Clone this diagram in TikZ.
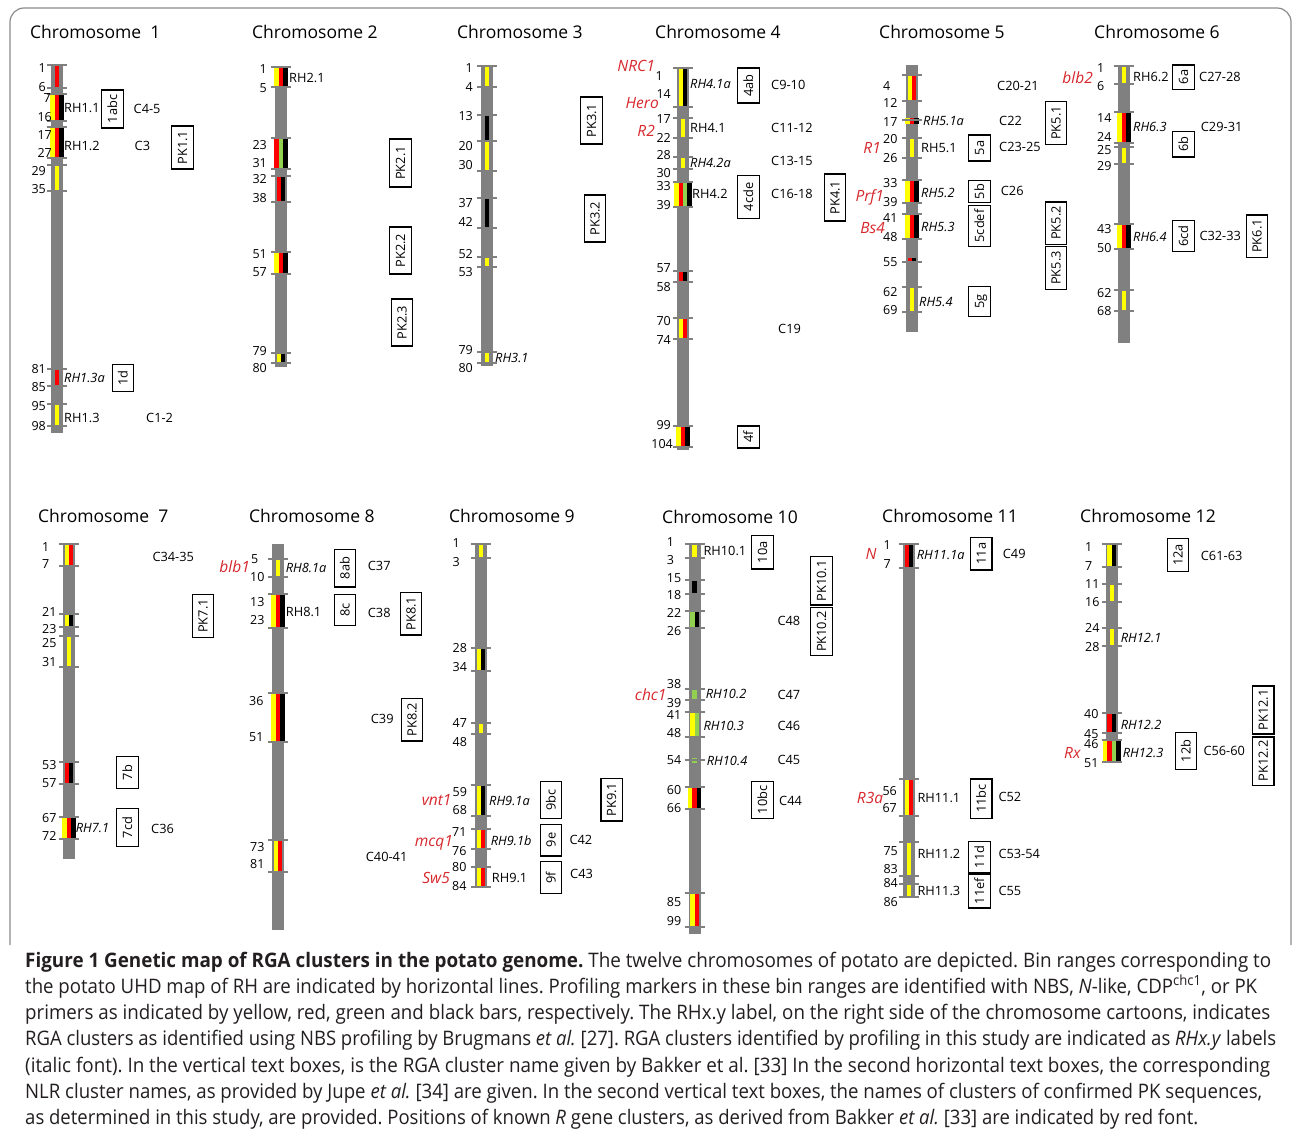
\documentclass[tikz,border=0pt]{standalone}
\usepackage{fontspec}
\setmainfont{Open Sans}
\usepackage{graphicx}
\frenchspacing
\definecolor{cY}{RGB}{255,255,0}
\definecolor{cR}{RGB}{255,0,0}
\definecolor{cG}{RGB}{146,208,80}
\definecolor{cK}{RGB}{0,0,0}
\definecolor{cBar}{RGB}{128,128,128}
\definecolor{cGene}{RGB}{215,40,45}
\definecolor{capc}{RGB}{35,31,32}
\definecolor{frc}{RGB}{140,140,140}
\newcommand\qbar[3]{\fill[cBar] ({#1-6},#2) rectangle ({#1+6},#3);}
\newcommand\qtk[2]{\draw[tickst] ({#1-10},#2) -- ({#1+10},#2);}
\newcommand\qblk[5]{\foreach \cc [count=\ii from 0] in {#5} {\fill[\cc] ({#1-#4*2.2+\ii*4.4},#2) rectangle ({#1-#4*2.2+(\ii+1)*4.4},#3);}\qtk{#1}{#2}\qtk{#1}{#3}}
\newcommand\qsblk[6]{\foreach \cc [count=\ii from 0] in {#6} {\fill[\cc] ({#1-#5*2.2+\ii*4.4},#2) rectangle ({#1-#5*2.2+(\ii+1)*4.4},#3);}\qtk{#1}{#4}}
\newcommand\qNR[3]{\node[num,anchor=east] at (#1,#2) {#3};}
\newcommand\qNL[3]{\node[num,anchor=west] at (#1,#2) {#3};}
\newcommand\qRH[3]{\node[rh] at (#1,#2) {#3};}
\newcommand\qRI[3]{\node[rh,font=\fontsize{12.8}{13}\selectfont\itshape] at (#1,#2) {#3};}
\newcommand\qCL[3]{\node[rh] at (#1,#2) {#3};}
\newcommand\qGN[3]{\node[gene] at (#1,#2) {#3};}
\newcommand\qVB[4]{\node[vbox,minimum width=#3pt] at (#1,#2) {#4};}
\begin{document}
\begin{tikzpicture}[x=1pt,y=-1pt,
  tickst/.style={draw=cBar,line width=2pt},
  num/.style={font=\fontsize{12.5}{12.5}\selectfont,inner sep=0pt,text height=8.9pt,text depth=0pt},
  rh/.style={font=\fontsize{12.8}{13}\selectfont,inner sep=0pt,anchor=west,text height=9.1pt,text depth=0pt},
  gene/.style={font=\fontsize{15.5}{16}\selectfont\itshape,text=cGene,inner sep=0pt,anchor=east,text height=11pt,text depth=0pt},
  vbox/.style={draw,line width=1.3pt,rotate=90,minimum height=21.5pt,inner sep=1pt,font=\fontsize{12.8}{13}\selectfont,text height=9pt,text depth=0pt},
  title/.style={font=\fontsize{17.5}{18}\selectfont,anchor=west,inner sep=0pt,text height=12.5pt,text depth=0pt},
  capst/.style={font=\fontsize{20}{24}\selectfont,text=capc,anchor=base west,inner sep=0pt}]
\useasboundingbox (0,0) rectangle (1293,1135);
\fill[white] (0,0) rectangle (1293,1135);
\draw[frc,line width=1.2pt,rounded corners=14pt] (10,945) -- (10,8) -- (1291,8) -- (1291,945);
% titles
\node[title] (t1) at (30,32) {Chromosome \ 1};
\node[title] (t2) at (252,32) {Chromosome 2};
\node[title] (t3) at (457,32) {Chromosome 3};
\node[title] (t4) at (655,32) {Chromosome 4};
\node[title] (t5) at (879,32) {Chromosome 5};
\node[title] (t6) at (1094,32) {Chromosome 6};
\node[title] (t7) at (38,516) {Chromosome \ 7};
\node[title] (t8) at (249,516) {Chromosome 8};
\node[title] (t9) at (449,516) {Chromosome 9};
\node[title] (t10) at (662,517) {Chromosome 10};
\node[title] (t11) at (882,516) {Chromosome 11};
\node[title] (t12) at (1080,516) {Chromosome 12};
% bars
\qbar{57}{64}{433}\qbar{281}{66}{367}\qbar{487}{65}{366}\qbar{683}{67}{450}\qbar{912}{65}{332}\qbar{1124}{65}{343}
\qbar{69}{543}{859}\qbar{278}{544}{930}\qbar{481}{543}{888}\qbar{694.5}{543}{934}\qbar{909}{543}{898}\qbar{1111.7}{543}{763}
% ---------- chromosome 1
\qblk{57}{65}{88.3}{1}{cR}
\qblk{57}{94}{120.7}{3}{cY,cR,cK}
\qblk{57}{127.3}{158.3}{3}{cY,cR,cK}
\qblk{57}{165}{191}{1}{cY}
\qblk{57}{369.3}{386}{1}{cR}
\qblk{57}{404.3}{425.7}{1}{cY}
\qNR{46}{68.3}{1}\qNR{46}{87.3}{6}\qNR{51}{98.3}{7}\qNR{52}{117.3}{16}\qNR{52}{135}{17}\qNR{52}{153.3}{27}
\qNR{46}{170.7}{29}\qNR{46}{189.3}{35}\qNR{46}{369.3}{81}\qNR{46}{387.3}{85}\qNR{46}{405.7}{95}\qNR{46}{426}{98}
\qRH{64}{108}{RH1.1}\qRH{64}{146}{RH1.2}\qRI{64}{378}{RH1.3a}\qRH{64}{418}{RH1.3}
\qVB{112.5}{109}{38}{1abc}\qVB{123}{378}{27}{1d}\qVB{182.5}{147.5}{43}{PK1.1}
\qCL{133.5}{109}{C4-5}\qCL{134.5}{146}{C3}\qCL{146}{418}{C1-2}
% ---------- chromosome 2
\qblk{281}{66.7}{87.3}{3}{cY,cR,cK}
\qblk{281}{137.7}{169}{3}{cR,cG,cK}
\qblk{281}{175.7}{201.7}{2}{cR,cK}
\qblk{281}{251.7}{274.3}{3}{cY,cR,cK}
\qblk{281}{352.7}{363.3}{2}{cY,cK}
\qNR{267}{69}{1}\qNR{267}{88.3}{5}\qNR{267}{145}{23}\qNR{267}{162.7}{31}\qNR{267}{179.3}{32}\qNR{267}{197.7}{38}
\qNR{267}{254.3}{51}\qNR{267}{271.7}{57}\qNR{267}{351}{79}\qNR{267}{368.3}{80}
\qRH{289}{77.7}{RH2.1}
\qVB{400.5}{163}{48}{PK2.1}\qVB{400.5}{250.5}{47}{PK2.2}\qVB{402}{322.5}{47}{PK2.3}
% ---------- chromosome 3
\qblk{487}{66}{86.7}{1}{cY}
\qblk{487}{115}{140.7}{1}{cK}
\qblk{487}{140.7}{170.7}{1}{cY}
\qblk{487}{198.3}{227.7}{1}{cK}
\qblk{487}{256.7}{267.3}{1}{cY}
\qblk{487}{351.7}{363.3}{1}{cY}
\qNR{473}{68.3}{1}\qNR{473}{86.7}{4}\qNR{473}{115.7}{13}\qNR{473}{145.7}{20}\qNR{473}{165}{30}\qNR{473}{202.7}{37}
\qNR{473}{221.7}{42}\qNR{473}{254}{52}\qNR{473}{271.7}{53}\qNR{473}{350}{79}\qNR{473}{368.3}{80}
\qRI{495}{358}{RH3.1}
\qVB{591.5}{120.5}{47}{PK3.1}\qVB{595}{218.5}{47}{PK3.2}
% ---------- chromosome 4
\qblk{683}{67.7}{106.7}{2}{cY,cK}
\qblk{683}{118.3}{137.7}{1}{cY}
\qblk{683}{157.3}{169}{1}{cY}
\qblk{683}{181.7}{206.7}{4}{cY,cR,cG,cK}
\qblk{683}{271}{281.7}{2}{cR,cK}
\qblk{683}{318.3}{339.3}{2}{cY,cR}
\qblk{683}{426}{446.7}{3}{cY,cR,cK}
\qNR{663}{75.7}{1}\qNR{671}{94.3}{14}\qNR{671}{119}{17}\qNR{671}{138.3}{22}\qNR{671}{155}{28}\qNR{671}{173.3}{30}
\qNR{671}{185.7}{33}\qNR{671}{205}{39}\qNR{671}{268.3}{57}\qNR{671}{286.7}{58}\qNR{671}{320.7}{70}\qNR{671}{340}{74}
\qNR{671}{425}{99}\qNR{673}{444}{104}
\qRI{690}{84}{RH4.1a}\qRH{690}{128}{RH4.1}\qRI{690}{163}{RH4.2a}\qRH{692}{194}{RH4.2}
\qGN{655}{65.7}{NRC1}\qGN{659}{102.7}{Hero}\qGN{655}{131}{R2}
\qVB{748.5}{85.5}{35}{4ab}\qVB{748.5}{197}{42.6}{4cde}\qVB{748.5}{437}{22}{4f}\qVB{835}{197.5}{47}{PK4.1}
\qCL{771}{85}{C9-10}\qCL{771}{127.7}{C11-12}\qCL{771}{160.7}{C13-15}\qCL{771}{194}{C16-18}\qCL{778}{329}{C19}
% ---------- chromosome 5
\qblk{912}{75}{100.7}{2}{cY,cR}
\qsblk{912}{117.7}{124}{120}{3}{cY,cR,cK}
\qblk{912}{137.7}{157.7}{1}{cY}
\qblk{912}{180}{203.3}{3}{cY,cR,cK}
\qblk{912}{214.3}{239}{3}{cY,cR,cK}
\qsblk{912}{257.7}{263.3}{261.7}{2}{cR,cK}
\qblk{912}{287.3}{312.3}{1}{cY}
\qNL{883}{85.7}{4}\qNL{883}{103.3}{12}\qNL{883}{121.7}{17}\qNL{883}{139.3}{20}\qNL{883}{157.7}{26}\qNL{883}{183.3}{33}
\qNL{883}{201.7}{39}\qNL{883}{218.3}{41}\qNL{883}{236.7}{48}\qNL{883}{261.7}{55}\qNL{883}{291.7}{62}\qNL{883}{310}{69}
\qRI{923}{121}{RH5.1a}\qRH{921}{148}{RH5.1}\qRI{921}{192.7}{RH5.2}\qRI{921}{226.7}{RH5.3}\qRI{919}{302}{RH5.4}
\qGN{881}{147.7}{R1}\qGN{884}{196}{Prf1}\qGN{885}{228.3}{Bs4}
\qVB{979.5}{148}{26}{5a}\qVB{979.5}{191.5}{21.6}{5b}\qVB{979.5}{226}{41}{5cdef}\qVB{979.5}{301.5}{30}{5g}
\qVB{1056}{123}{42.6}{PK5.1}\qVB{1056}{223}{42.3}{PK5.2}\qVB{1056}{268}{42.6}{PK5.3}
\qCL{997}{86}{C20-21}\qCL{999}{120.7}{C22}\qCL{999}{147.3}{C23-25}\qCL{1000.7}{191}{C26}
% ---------- chromosome 6
\qblk{1124}{66}{84}{1}{cY}
\qblk{1124}{112.3}{142.7}{3}{cY,cR,cK}
\qblk{1124}{146.7}{164.3}{1}{cY}
\qblk{1124}{224}{249.3}{3}{cY,cR,cK}
\qblk{1124}{290}{311}{1}{cY}
\qNL{1097}{68.3}{1}\qNL{1097}{86}{6}\qNL{1097}{118.3}{14}\qNL{1097}{136.7}{24}\qNL{1097}{150}{25}\qNL{1097}{166}{29}
\qNL{1097}{229}{43}\qNL{1097}{248.3}{50}\qNL{1097}{292.7}{62}\qNL{1097}{311}{68}
\qRH{1133}{76.7}{RH6.2}\qRI{1133}{127.3}{RH6.3}\qRI{1133}{237.3}{RH6.4}
\qGN{1093}{77.7}{blb2}
\qVB{1183.5}{77}{24.3}{6a}\qVB{1183.5}{144}{25.7}{6b}\qVB{1183.5}{236}{31}{6cd}\qVB{1257}{236}{42.3}{PK6.1}
\qCL{1199}{76.7}{C27-28}\qCL{1200.7}{127.3}{C29-31}\qCL{1199.3}{236}{C32-33}
% ---------- chromosome 7
\qblk{69}{544}{566}{2}{cY,cR}
\qblk{69}{614}{626.7}{2}{cY,cK}
\qblk{69}{636}{666.7}{1}{cY}
\qblk{69}{761.7}{784}{2}{cR,cK}
\qblk{69}{816.7}{839}{3}{cY,cR,cK}
\qNL{42}{546.7}{1}\qNL{42}{564.3}{7}\qNL{42}{611.7}{21}\qNL{42}{629.3}{23}\qNL{42}{643.3}{25}\qNL{42}{661.7}{31}
\qNL{42}{765}{53}\qNL{42}{783.3}{57}\qNL{42}{818.3}{67}\qNL{42}{836}{72}
\qRI{75.7}{827.7}{RH7.1}
\qVB{127.5}{772.5}{31.6}{7b}\qVB{127.5}{827.5}{38.4}{7cd}\qVB{203}{616}{42.7}{PK7.1}
\qCL{152.3}{556.7}{C34-35}\qCL{151}{829}{C36}
% ---------- chromosome 8
\qblk{278}{559.3}{576.7}{1}{cY}
\qblk{278}{594}{627.7}{3}{cY,cR,cK}
\qblk{278}{693.3}{741.7}{3}{cY,cR,cK}
\qblk{278}{840}{871.7}{2}{cY,cR}
\qNL{251}{559.3}{5}\qNL{250}{576.7}{10}\qNL{250}{601.7}{13}\qNL{250}{620}{23}\qNL{249}{700.7}{36}\qNL{249}{736.7}{51}
\qNL{250}{846.7}{73}\qNL{250}{864.3}{81}
\qRI{285.7}{567.7}{RH8.1a}\qRH{285.7}{611.7}{RH8.1}
\qGN{250}{566.7}{blb1}
\qVB{345}{568}{37.7}{8ab}\qVB{345}{610}{30.7}{8c}\qVB{411}{613.5}{42.7}{PK8.1}\qVB{412}{719.7}{42.7}{PK8.2}
\qCL{367.7}{565.7}{C37}\qCL{367.7}{612.7}{C38}\qCL{370.7}{719}{C39}\qCL{365.7}{856.7}{C40-41}
% ---------- chromosome 9
\qblk{481}{544}{557.7}{1}{cY}
\qblk{481}{647.7}{670.7}{2}{cY,cK}
\qblk{481}{723.3}{734.3}{1}{cY}
\qblk{481}{785}{816}{2}{cY,cK}
\qblk{481}{829}{849.3}{2}{cY,cR}
\qblk{481}{866.7}{886.7}{2}{cY,cR}
\qNL{452.5}{543.3}{1}\qNL{452.5}{562.3}{3}\qNL{452.5}{648.3}{28}\qNL{452.5}{667.3}{34}\qNL{452.5}{723.3}{47}\qNL{452.5}{741.7}{48}
\qNL{452.5}{791.7}{59}\qNL{452.5}{810}{68}\qNL{452}{831.7}{71}\qNL{452}{850.7}{76}\qNL{452}{867.3}{80}\qNL{452}{886}{84}
\qRI{489}{800.7}{RH9.1a}\qRI{490.7}{840.7}{RH9.1b}\qRH{491.7}{878.3}{RH9.1}
\qGN{451.7}{800}{vnt1}\qGN{453}{840.7}{mcq1}\qGN{450}{878.3}{Sw5}
\qVB{551}{800}{36.6}{9bc}\qVB{551}{840}{31.7}{9e}\qVB{551}{877.5}{31.6}{9f}\qVB{611.7}{799.7}{42.7}{PK9.1}
\qCL{569.3}{840}{C42}\qCL{570}{874.3}{C43}
% ---------- chromosome 10
\qblk{694.5}{544}{557.7}{1}{cY}
\qblk{694.5}{580}{594}{1}{cK}
\qblk{694.5}{611}{628.3}{2}{cG,cK}
\qblk{694.5}{689.3}{700}{1}{cG}
\qblk{694.5}{712.3}{736.7}{2}{cY,cG}
\qsblk{694.5}{757.7}{763.3}{760}{1}{cG}
\qblk{694.5}{786.7}{809.3}{3}{cY,cR,cK}
\qblk{694.5}{893.3}{926.7}{2}{cY,cR}
\qNL{666.7}{542.3}{1}\qNL{666.7}{560}{3}\qNL{666.7}{577.7}{15}\qNL{666.7}{595}{18}\qNL{666.7}{613.3}{22}\qNL{666.7}{630.7}{26}
\qNL{666.7}{684.3}{38}\qNL{666.7}{702.7}{39}\qNL{666.7}{715}{41}\qNL{666.7}{733.3}{48}\qNL{666.7}{760}{54}\qNL{666.7}{790}{60}
\qNL{666.7}{808.3}{66}\qNL{666.7}{901.7}{85}\qNL{666.7}{920.7}{99}
\qRH{703.3}{551}{RH10.1}\qRI{705.7}{694.3}{RH10.2}\qRI{703.3}{726}{RH10.3}\qRI{706.7}{760.7}{RH10.4}
\qGN{666.7}{695}{chc1}
\qVB{762.5}{552.3}{33.3}{10a}\qVB{762.5}{800}{36.6}{10bc}\qVB{821.5}{580.8}{48.3}{PK10.1}\qVB{821.5}{631.5}{48.4}{PK10.2}
\qCL{777.3}{621}{C48}\qCL{777.3}{695}{C47}\qCL{777.3}{726}{C46}\qCL{777.3}{760}{C45}\qCL{779}{800.7}{C44}
% ---------- chromosome 11
\qblk{909}{544}{567.7}{2}{cR,cK}
\qblk{909}{779.3}{816}{2}{cY,cR}
\qblk{909}{842.3}{876}{1}{cY}
\qblk{909}{884}{896.7}{1}{cY}
\qNL{883.3}{545}{1}\qNL{883.3}{564}{7}\qNL{882.3}{790.7}{56}\qNL{882.3}{808.3}{67}\qNL{883.3}{851}{75}\qNL{883.3}{869}{83}
\qNL{883.3}{883.3}{84}\qNL{883.3}{901.7}{86}
\qRI{916.7}{555}{RH11.1a}\qRH{917.3}{798.3}{RH11.1}\qRH{917.3}{854}{RH11.2}\qRH{917.3}{890.7}{RH11.3}
\qGN{876.7}{554}{N}\qGN{883.3}{798.3}{R3a}
\qVB{981.3}{553.7}{32.7}{11a}\qVB{981.3}{798.7}{39.3}{11bc}\qVB{979.5}{857}{31}{11d}\qVB{979.5}{891}{34}{11ef}
\qCL{1002.7}{554}{C49}\qCL{998.3}{796.7}{C52}\qCL{998.3}{854}{C53-54}\qCL{998.3}{890.7}{C55}
% ---------- chromosome 12
\qblk{1111.7}{544}{567.3}{2}{cY,cK}
\qblk{1111.7}{584.3}{602.3}{1}{cY}
\qblk{1111.7}{627.7}{645.7}{1}{cY}
\qblk{1111.7}{713.3}{733.3}{2}{cR,cK}
\qblk{1111.7}{740}{762.3}{4}{cY,cR,cG,cK}
\qNL{1085}{546.7}{1}\qNL{1085}{566}{7}\qNL{1085}{584.3}{11}\qNL{1085}{602.3}{16}\qNL{1085}{628.3}{24}\qNL{1085}{647.3}{28}
\qNL{1084}{714.3}{40}\qNL{1084}{734}{45}\qNL{1084}{744.3}{46}\qNL{1084}{763.3}{51}
\qRI{1120.7}{638.3}{RH12.1}\qRI{1120.7}{725}{RH12.2}\qRI{1122.7}{752.7}{RH12.3}
\qGN{1080.7}{753.3}{Rx}
\qVB{1178}{555}{33.4}{12a}\qVB{1186}{750.8}{37}{12b}\qVB{1263.3}{710}{48}{PK12.1}\qVB{1263.3}{761}{48.3}{PK12.2}
\qCL{1200.7}{556}{C61-63}\qCL{1203.3}{751}{C56-60}
% ---------- caption
\node[capst] (cap1) at (25,967) {\resizebox{1246pt}{\height}{\textbf{Figure 1 Genetic map of RGA clusters in the potato genome.} The twelve chromosomes of potato are depicted. Bin ranges corresponding to}};
\node[capst] (cap2) at (25,993.3) {\resizebox{1232pt}{\height}{the potato UHD map of RH are indicated by horizontal lines. Profiling markers in these bin ranges are identified with NBS, \textit{N}-like, CDP\textsuperscript{chc1}, or PK}};
\node[capst] (cap3) at (25,1019.6) {\resizebox{1245pt}{\height}{primers as indicated by yellow, red, green and black bars, respectively. The RHx.y label, on the right side of the chromosome cartoons, indicates}};
\node[capst] (cap4) at (25,1045.9) {\resizebox{1251pt}{\height}{RGA clusters as identified using NBS profiling by Brugmans \textit{et al.} [27]. RGA clusters identified by profiling in this study are indicated as \textit{RHx.y} labels}};
\node[capst] (cap5) at (25,1072.2) {\resizebox{1245pt}{\height}{(italic font). In the vertical text boxes, is the RGA cluster name given by Bakker et al. [33] In the second horizontal text boxes, the corresponding}};
\node[capst] (cap6) at (25,1098.5) {\resizebox{1237pt}{\height}{NLR cluster names, as provided by Jupe \textit{et al.} [34] are given. In the second vertical text boxes, the names of clusters of confirmed PK sequences,}};
\node[capst] (cap7) at (25,1124.8) {\resizebox{1173pt}{\height}{as determined in this study, are provided. Positions of known \textit{R} gene clusters, as derived from Bakker \textit{et al.} [33] are indicated by red font.}};
\end{tikzpicture}
\end{document}
